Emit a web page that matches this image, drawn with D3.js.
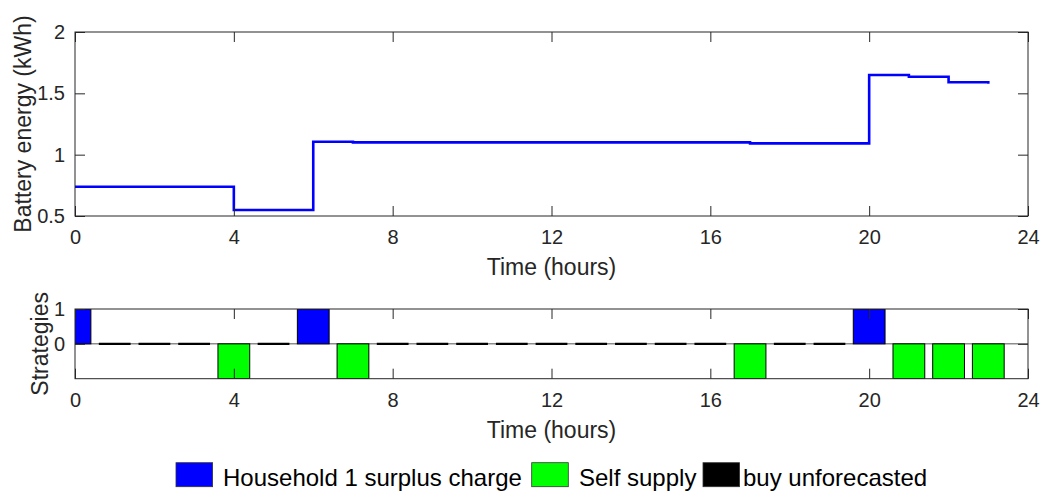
<!DOCTYPE html>
<html>
<head>
<meta charset="utf-8">
<script src="https://cdn.jsdelivr.net/npm/d3@7/dist/d3.min.js"></script>
<style>
  html, body { margin: 0; padding: 0; background: #fff; }
  svg { display: block; }
  text { font-family: "Liberation Sans", Arial, Helvetica, sans-serif; }
</style>
</head>
<body>
<svg id="chart" width="1046" height="491"></svg>
<script>
// ---------------- DATA ----------------
const hours = [0,1,2,3,4,5,6,7,8,9,10,11,12,13,14,15,16,17,18,19,20,21,22,23];
const batteryEnergy = [0.739,0.739,0.739,0.739,0.549,0.549,1.105,1.100,1.100,1.100,1.100,1.100,
                       1.100,1.100,1.100,1.100,1.100,1.092,1.092,1.092,1.649,1.635,1.590,1.578];
const xTicks = [0,4,8,12,16,20,24];
const energyTicks = [0.5,1,1.5,2];
const strategyTicks = [0,1];
const strategyNames = ["Household 1 surplus charge","Self supply","buy unforecasted"];
const strategyColors = ["#0000ff","#00ff00","#000000"];
const surplusCharge   = [1,0,0,0,0,0,1,0,0,0,0,0,0,0,0,0,0,0,0,0,1,0,0,0];
const selfSupply      = [0,0,0,0,-1,0,0,-1,0,0,0,0,0,0,0,0,0,-1,0,0,0,-1,-1,-1];
const buyUnforecasted = [0,1,1,1,0,1,0,0,1,1,1,1,1,1,1,1,1,0,1,1,0,0,0,0]; // active hours (zero-height bars)
const barWidth = 0.8;

// ---------------- LAYOUT ----------------
const svg = d3.select("#chart");
const axisColor = "#262626";
const L = 75, R = 1028;
const top1 = 32, bot1 = 216;
const top2 = 309, bot2 = 378.7;

const x = d3.scaleLinear().domain([0,24]).range([L,R]);
const y1 = d3.scaleLinear().domain([0.5,2]).range([bot1,top1]);
const y2 = d3.scaleLinear().domain([-1,1]).range([bot2,top2]);

function drawAxes(yScale, yt, yTop, yBot, ylabel, ylabelX) {
  const tickLen = 10;
  const g = svg.append("g");
  // x ticks bottom & top (inward)
  const xa = d3.axisBottom(x).tickValues(xTicks).tickSize(-tickLen).tickPadding(14).tickFormat(d3.format("d"));
  const gx = g.append("g").attr("transform", `translate(0,${yBot})`).call(xa);
  const xt = d3.axisTop(x).tickValues(xTicks).tickSize(-tickLen).tickFormat("");
  const gxt = g.append("g").attr("transform", `translate(0,${yTop})`).call(xt);
  const ya = d3.axisLeft(yScale).tickValues(yt).tickSize(-tickLen).tickPadding(10).tickFormat(d3.format("~g"));
  const gy = g.append("g").attr("transform", `translate(${L},0)`).call(ya);
  const yr = d3.axisRight(yScale).tickValues(yt).tickSize(-tickLen).tickFormat("");
  const gyr = g.append("g").attr("transform", `translate(${R},0)`).call(yr);
  [gx,gxt,gy,gyr].forEach(a => {
    a.select(".domain").remove();
    a.selectAll("line").attr("stroke", axisColor).attr("stroke-width", 1);
    a.selectAll("text").attr("fill", axisColor).style("font-size", "20px").style("font-family", '"Liberation Sans", Arial, sans-serif');
  });
  gx.selectAll("text").attr("dy", "0.71em");
  // box
  g.append("rect").attr("x", L).attr("y", yTop).attr("width", R-L).attr("height", yBot-yTop)
    .attr("fill", "none").attr("stroke", axisColor).attr("stroke-width", 1);
  // labels
  g.append("text").attr("x", (L+R)/2).attr("y", yBot + 59).attr("text-anchor", "middle")
    .attr("fill", axisColor).style("font-size", "23px").text("Time (hours)");
  g.append("text").attr("transform", `translate(${ylabelX},${(yTop+yBot)/2}) rotate(-90)`)
    .attr("text-anchor", "middle").attr("fill", axisColor).style("font-size", "23px").text(ylabel);
}

// ---------------- TOP: battery energy ----------------
const clip1 = svg.append("clipPath").attr("id","c1").append("rect")
  .attr("x", L).attr("y", top1).attr("width", R-L).attr("height", bot1-top1);
const line = d3.line().x((d,i) => x(hours[i])).y(d => y1(d)).curve(d3.curveStepAfter);
svg.append("path").datum(batteryEnergy).attr("d", line)
  .attr("fill", "none").attr("stroke", "#0000ff").attr("stroke-width", 2.6);
drawAxes(y1, energyTicks, top1, bot1, "Battery energy (kWh)", 31);

// ---------------- BOTTOM: strategies ----------------
svg.append("clipPath").attr("id","c2").append("rect")
  .attr("x", L).attr("y", top2).attr("width", R-L).attr("height", bot2-top2);
const gb = svg.append("g").attr("clip-path", "url(#c2)");
// baseline
gb.append("line").attr("x1", L).attr("x2", R).attr("y1", y2(0)).attr("y2", y2(0))
  .attr("stroke", "#8c8c8c").attr("stroke-width", 1.5);
// zero-height bars (buy unforecasted)
gb.selectAll("line.buy").data(hours.filter((h,i) => buyUnforecasted[i])).enter().append("line")
  .attr("class","buy")
  .attr("x1", h => x(h - barWidth/2)).attr("x2", h => x(h + barWidth/2))
  .attr("y1", y2(0)).attr("y2", y2(0)).attr("stroke", strategyColors[2]).attr("stroke-width", 2.2);
// surplus charge bars
const series = [surplusCharge, selfSupply];
series.forEach((vals, si) => {
  gb.selectAll(`rect.s${si}`).data(hours.filter((h,i) => vals[i] !== 0).map(h => ({h, v: vals[hours.indexOf(h)]})))
    .enter().append("rect").attr("class", `s${si}`)
    .attr("x", d => x(d.h - barWidth/2)).attr("width", d => x(d.h + barWidth/2) - x(d.h - barWidth/2))
    .attr("y", d => Math.min(y2(0), y2(d.v))).attr("height", d => Math.abs(y2(d.v) - y2(0)))
    .attr("fill", strategyColors[si]).attr("stroke", "#000").attr("stroke-width", 1);
});
drawAxes(y2, strategyTicks, top2, bot2, "Strategies", 48);

// ---------------- LEGEND ----------------
const legendBoxX = [176, 531.7, 703];
const legendTextX = [223, 579, 743];
const lg = svg.append("g");
strategyNames.forEach((name, i) => {
  lg.append("rect").attr("x", legendBoxX[i]).attr("y", 462.7).attr("width", 36.6).attr("height", 24)
    .attr("fill", strategyColors[i]).attr("stroke", "#333").attr("stroke-width", 0.8);
  lg.append("text").attr("x", legendTextX[i]).attr("y", 486).attr("fill", "#000")
    .style("font-size", "24px").text(name);
});
</script>
</body>
</html>
